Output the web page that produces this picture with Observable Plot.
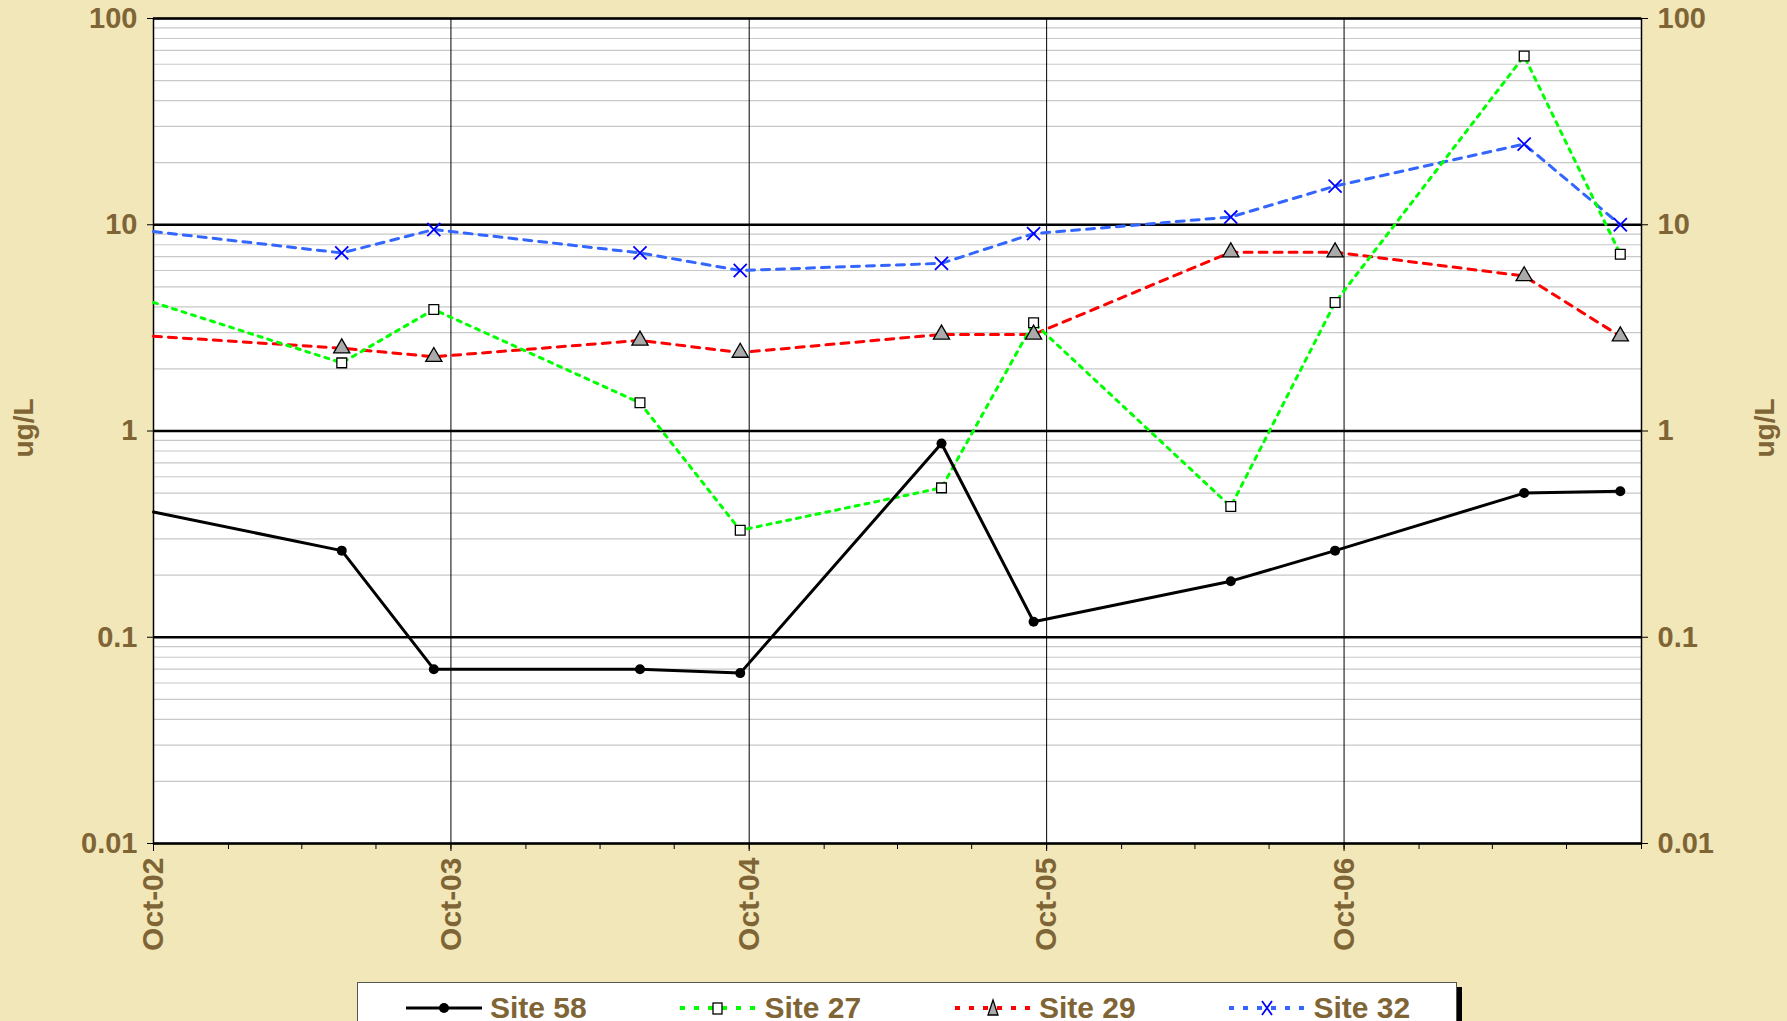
<!DOCTYPE html>
<html><head><meta charset="utf-8">
<script src="https://cdn.jsdelivr.net/npm/d3@7"></script>
<script src="https://cdn.jsdelivr.net/npm/@observablehq/plot@0.6"></script>
<style>
body{margin:0;background:#f2e7b9;font-family:Arial,"Liberation Sans",sans-serif;overflow:hidden}
#wrap{position:relative;width:1787px;height:1021px}
.yl{position:absolute;font-weight:bold;font-size:28px;color:#7f6535;transform:rotate(-90deg);}
#legend{position:absolute;left:357px;top:982px;width:1098px;height:50px;background:#fff;border:1px solid #555;box-shadow:5px 5px 0 #000;display:flex;align-items:center;justify-content:space-around;font-weight:bold;font-size:30px;color:#7f6535}
#legend span{display:flex;align-items:center;gap:6px}
</style></head><body>
<div id="wrap"></div>
<script>
const dates = ["2002-10-01","2003-05-20","2003-09-10","2004-05-20","2004-09-20","2005-05-25","2005-09-15","2006-05-15","2006-09-20","2007-05-10","2007-09-05"];
const site58 = [0.405,0.263,0.07,0.07,0.067,0.87,0.119,0.187,0.263,0.5,0.51];
const site27 = [4.2,2.14,3.88,1.37,0.33,0.53,3.35,0.43,4.2,65.8,7.2];
const site29 = [2.88,2.52,2.29,2.75,2.4,2.94,2.94,7.36,7.36,5.64,2.88];
const site32 = [9.27,7.3,9.48,7.3,6.0,6.5,9.06,10.9,15.4,24.6,10.0];
const yearTicks = ["2002-10-01","2003-10-01","2004-10-01","2005-10-01","2006-10-01"];
const yTicks = [100,10,1,0.1,0.01];

const P = s => new Date(s+"T00:00:00Z");
const mk = arr => arr.map((v,i)=>({d:P(dates[i]),v,first:i===0}));
const d58=mk(site58), d27=mk(site27), d29=mk(site29), d32=mk(site32);
const xt = yearTicks.map(P);
const quarters = d3.utcMonth.every(3).range(P("2002-10-01"), P("2007-10-02"));
const minorY = [];
for (const e of [0.01,0.1,1,10]) for (let k=2;k<10;k++) minorY.push(e*k);
const brown="#7f6535";
const fmtX = d => "Oct-" + String(d.getUTCFullYear()).slice(2);

const chart = Plot.plot({
  width:1787, height:1021,
  marginLeft:153, marginRight:146, marginTop:18, marginBottom:178,
  style:{background:"transparent",fontFamily:"Arial, 'Liberation Sans', sans-serif"},
  x:{type:"utc",domain:[P("2002-10-01"),P("2007-10-01")]},
  y:{type:"log",domain:[0.01,100]},
  marks:[
    Plot.frame({fill:"white"}),
    Plot.ruleY(minorY,{stroke:"#c8c8c8",strokeWidth:1.2}),
    Plot.ruleX(xt,{stroke:"#000",strokeWidth:1}),
    Plot.ruleY(yTicks,{stroke:"#000",strokeWidth:2.5}),
    Plot.frame({stroke:"#000",strokeWidth:1.5}),
    Plot.axisY({anchor:"left",ticks:yTicks,tickFormat:d=>String(d),tickSize:6,fontSize:29,fontWeight:"bold",fill:brown,label:null,tickPadding:10}),
    Plot.axisY({anchor:"right",ticks:yTicks,tickFormat:d=>String(d),tickSize:6,fontSize:29,fontWeight:"bold",fill:brown,label:null,tickPadding:10}),
    Plot.axisX({ticks:quarters,tickSize:6,tickFormat:()=>"",label:null}),
    Plot.axisX({ticks:xt,tickSize:8,tickFormat:fmtX,tickRotate:-90,fontSize:30,fontWeight:"bold",fill:brown,label:null,tickPadding:6}),
    Plot.lineY(d32,{x:"d",y:"v",stroke:"#3366ff",strokeWidth:3,strokeDasharray:"8,7"}),
    Plot.lineY(d29,{x:"d",y:"v",stroke:"#ff0000",strokeWidth:3,strokeDasharray:"8,7"}),
    Plot.lineY(d27,{x:"d",y:"v",stroke:"#00ff00",strokeWidth:3,strokeDasharray:"4,6"}),
    Plot.lineY(d58,{x:"d",y:"v",stroke:"#000",strokeWidth:3}),
    Plot.dot(d58.filter(d=>!d.first),{x:"d",y:"v",r:5,fill:"#000"}),
    Plot.dot(d27.filter(d=>!d.first),{x:"d",y:"v",symbol:"square",r:5.5,fill:"white",stroke:"#000",strokeWidth:1.3}),
    Plot.dot(d29.filter(d=>!d.first),{x:"d",y:"v",symbol:"triangle",r:6,fill:"#aaa",stroke:"#000",strokeWidth:1.3}),
    Plot.dot(d32.filter(d=>!d.first),{x:"d",y:"v",symbol:"times",r:6,stroke:"#0000ff",strokeWidth:1.8})
  ]
});
const wrap=document.getElementById("wrap");
wrap.appendChild(chart);
wrap.insertAdjacentHTML("beforeend",`
<div class="yl" style="left:-6px;top:412px">ug/L</div>
<div class="yl" style="left:1735px;top:412px">ug/L</div>
<div id="legend">
<span><svg width="80" height="20"><line x1="2" x2="78" y1="10" y2="10" stroke="#000" stroke-width="3"/><circle cx="40" cy="10" r="5"/></svg>Site 58</span>
<span><svg width="80" height="20"><line x1="2" x2="78" y1="10" y2="10" stroke="#00ff00" stroke-width="4" stroke-dasharray="5,9"/><rect x="35" y="5" width="9" height="11" fill="#fff" stroke="#000" stroke-width="1.3"/></svg>Site 27</span>
<span><svg width="80" height="20"><line x1="2" x2="78" y1="10" y2="10" stroke="#ff0000" stroke-width="4" stroke-dasharray="5,9"/><path d="M40,2 L45,17 L35,17Z" fill="#aaa" stroke="#000" stroke-width="1.3"/></svg>Site 29</span>
<span><svg width="80" height="20"><line x1="2" x2="78" y1="10" y2="10" stroke="#3366ff" stroke-width="4" stroke-dasharray="5,9"/><path d="M35,3 L45,17 M45,3 L35,17" stroke="#0000ff" stroke-width="1.8"/></svg>Site 32</span>
</div>`);
</script></body></html>
